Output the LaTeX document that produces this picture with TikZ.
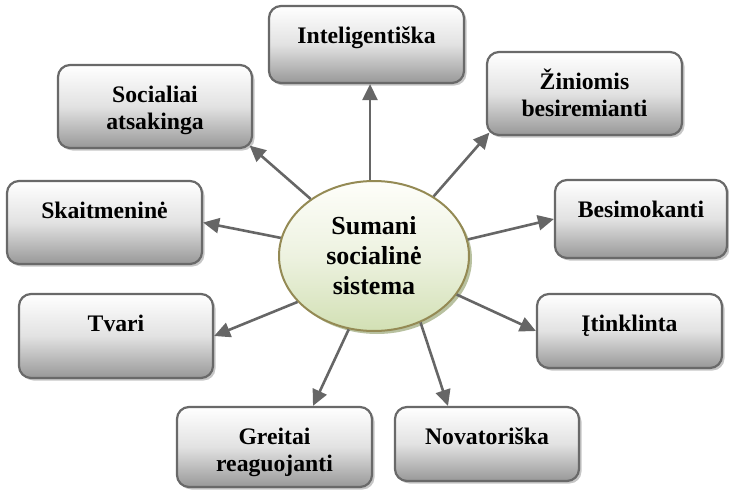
\documentclass[tikz,border=0pt]{standalone}
\usepackage{fontspec}
\setmainfont{Liberation Serif}
\usetikzlibrary{shadows,arrows.meta,calc,shapes.geometric}
\definecolor{boxline}{HTML}{696969}
\definecolor{boxbot}{HTML}{989898}
\definecolor{boxmid}{HTML}{E2E2E2}
\definecolor{arr}{HTML}{666666}
\definecolor{ellline}{HTML}{948A54}
\definecolor{elltop}{HTML}{FEFEFA}
\definecolor{ellmid}{HTML}{EDF2E0}
\definecolor{ellbot}{HTML}{D2E0B4}
\definecolor{ellshadow}{HTML}{B0BA96}
\newcommand\lnstrut{\rule{0pt}{22pt}}
\tikzset{
  panel/.style={draw=boxline, line width=2.2pt, rounded corners=12pt,
    top color=white, bottom color=boxbot, middle color=boxmid,
    drop shadow={shadow xshift=2.5pt,shadow yshift=-2.5pt,fill=black!50,opacity=0.45},
    inner sep=0pt},
  lbl/.style={font=\bfseries\fontsize{23.7}{27.5}\selectfont, align=center, inner sep=0pt, anchor=north},
  hub/.style={ellipse, draw=ellline, line width=2pt, minimum width=190pt, minimum height=150pt,
    inner sep=0pt, top color=elltop, bottom color=ellbot, middle color=ellmid,
    drop shadow={shadow xshift=3pt,shadow yshift=-3pt,fill=ellshadow,opacity=0.9},
    font=\bfseries\fontsize{26}{30}\selectfont, align=center},
  link/.style={draw=arr, line width=2.6pt, -{Triangle[length=16pt,width=15pt]}}
}
\begin{document}
\begin{tikzpicture}[x=1pt,y=-1pt]
\useasboundingbox (0,0) rectangle (729,490);

% boxes
\node[panel, minimum width=195pt, minimum height=77pt] (i) at (366.5,44.5) {};
\node[lbl] (it) at (366.5,21) {\lnstrut Inteligentiška};

\node[panel, minimum width=195pt, minimum height=83pt] (z) at (584.5,93.5) {};
\node[lbl] (zt) at (584.5,67) {\lnstrut Žiniomis\\besiremianti};

\node[panel, minimum width=194pt, minimum height=83pt] (s) at (155,106.5) {};
\node[lbl] (st) at (155,80) {\lnstrut Socialiai\\atsakinga};

\node[panel, minimum width=195pt, minimum height=83pt] (k) at (104.5,222.5) {};
\node[lbl] (kt) at (104.5,196) {\lnstrut Skaitmeninė};

\node[panel, minimum width=172pt, minimum height=78pt] (b) at (641,219) {};
\node[lbl] (bt) at (641,195) {\lnstrut Besimokanti};

\node[panel, minimum width=194pt, minimum height=84pt] (t) at (116,336) {};
\node[lbl] (tt) at (116,309) {\lnstrut Tvari};

\node[panel, minimum width=185pt, minimum height=74pt] (j) at (629.5,331) {};
\node[lbl] (jt) at (629.5,309) {\lnstrut Įtinklinta};

\node[panel, minimum width=195pt, minimum height=80pt] (g) at (274.5,447) {};
\node[lbl] (gt) at (274.5,422) {\lnstrut Greitai\\reaguojanti};

\node[panel, minimum width=184pt, minimum height=74pt] (n) at (487,444) {};
\node[lbl] (nt) at (487,422) {\lnstrut Novatoriška};

% hub
\node[hub] (c) at (374,256) {Sumani\\socialinė\\sistema};

% connectors
\draw[link] (c.93) -- (c.93 |- i.south);
\draw[link] (c.45) -- ($(z.south west)+(3.5pt,3.5pt)$);
\draw[link] (c.10) -- (b.west);
\draw[link] (c.138) -- ($(s.south east)+(-3.5pt,3.5pt)$);
\draw[link] (c.169) -- (k.east);
\draw[link] (c.211) -- (t.east);
\draw[link] (c.251) -- ($(g.north)+(38.5pt,0pt)$);
\draw[link] (c.305) -- ($(n.north)+(-39pt,0pt)$);
\draw[link] (c.335) -- (j.west);
\end{tikzpicture}
\end{document}
